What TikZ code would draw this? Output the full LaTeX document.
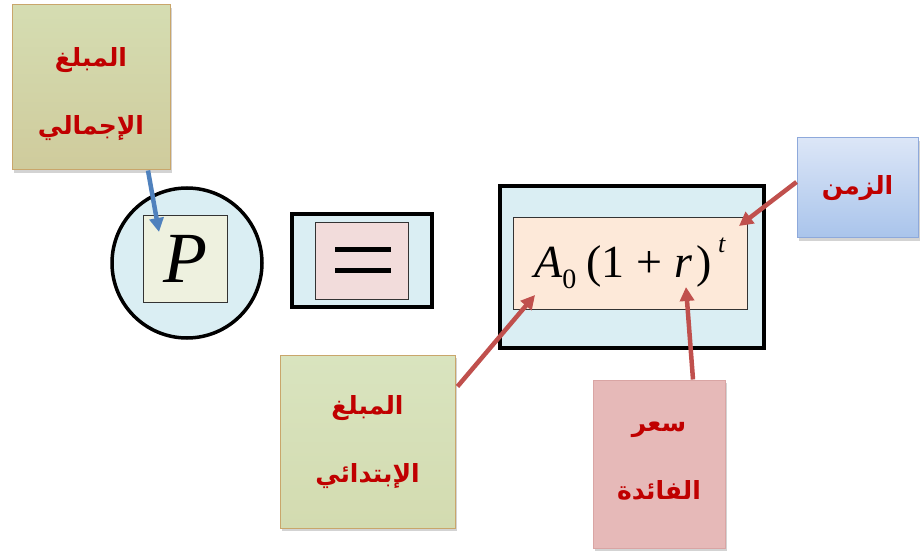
\documentclass[tikz,border=0pt]{standalone}
\usepackage{fontspec}
\usetikzlibrary{arrows.meta,shadows}
\TeXXeTstate=1
\newfontfamily\arabicfont[Script=Arabic]{DejaVu Sans}
\newfontfamily\timesf{Liberation Serif}
\definecolor{lblue}{HTML}{DAEEF3}
\definecolor{peach}{HTML}{FDE9D9}
\definecolor{pinkin}{HTML}{F2DCDB}
\definecolor{cream}{HTML}{EEF1DF}
\definecolor{txtred}{HTML}{C00000}
\definecolor{arrred}{HTML}{C0504D}
\definecolor{arrblue}{HTML}{4F81BD}
\definecolor{tanline}{HTML}{C9A66B}
\definecolor{gTtop}{HTML}{D5DDB2}
\definecolor{gTbot}{HTML}{CFCB9C}
\definecolor{gBtop}{HTML}{D9E4BF}
\definecolor{gBbot}{HTML}{D3DBB0}
\definecolor{pinkfill}{HTML}{E6B9B8}
\definecolor{pinkline}{HTML}{D9A5A4}
\definecolor{bline}{HTML}{8EA9DB}
\definecolor{btop}{HTML}{DCE6F7}
\definecolor{bbot}{HTML}{A9C4EB}
\tikzset{
  x=1pt,y=-1pt,
  outerbox/.style={draw=black,line width=4pt,fill=lblue},
  innerbox/.style={draw=black!80,line width=0.9pt},
  labelbox/.style={line width=1pt,drop shadow={shadow xshift=2pt,shadow yshift=-3pt,opacity=0.35}},
  labeltext/.style={font=\arabicfont\bfseries\fontsize{25}{68}\selectfont,text=txtred,align=center},
  callarrow/.style={line width=4.5pt,-{Triangle[length=14pt,width=14pt]}},
}
\begin{document}
\begin{tikzpicture}
\useasboundingbox (0,0) rectangle (922,559);
% P circle
\node[circle,draw=black,line width=3.5pt,fill=lblue,minimum size=150pt,inner sep=0pt] (circ) at (187,263) {};
\node[innerbox,fill=cream,minimum width=84pt,minimum height=87pt,inner sep=0pt] (pbox) at (185,258.5)
  {\timesf\itshape\fontsize{72}{72}\selectfont P};
% equals
\node[outerbox,minimum width=140pt,minimum height=92pt,inner sep=0pt] (eqout) at (361.5,260.5) {};
\node[innerbox,fill=pinkin,minimum width=93pt,minimum height=77pt,inner sep=0pt] (eqin) at (361.5,260.5) {};
\draw[line width=5pt] (335,250) -- (391,250) (335,270) -- (391,270);
% formula
\node[outerbox,minimum width=264pt,minimum height=161pt,inner sep=0pt] (fout) at (631.5,267) {};
\node[innerbox,fill=peach,minimum width=234pt,minimum height=92pt,inner sep=0pt] (fin) at (630,263)
  {\timesf\fontsize{46}{46}\selectfont\textit{A}\raisebox{-11pt}{\fontsize{28}{28}\selectfont 0}\kern10pt(1\kern12pt+\kern12pt\textit{r}\kern4pt)\kern6pt\raisebox{25pt}{\fontsize{26}{26}\selectfont\textit{t}}};
% label boxes
\node[labelbox,draw=tanline,top color=gTtop,bottom color=gTbot,minimum width=158pt,minimum height=165pt] (total) at (91,87.5) {};
\node[labeltext] (totaltxt) at (91,94) {\beginR المبلغ\endR\\ \beginR الإجمالي\endR};
\node[labelbox,draw=tanline,top color=gBtop,bottom color=gBbot,minimum width=175pt,minimum height=173pt] (init) at (367.5,441.5) {};
\node[labeltext] (inittxt) at (367.5,442) {\beginR المبلغ\endR\\ \beginR الإبتدائي\endR};
\node[labelbox,draw=pinkline,fill=pinkfill,minimum width=132pt,minimum height=168pt] (rate) at (659,464) {};
\node[labeltext] (ratetxt) at (659,461) {\beginR سعر\endR\\ \beginR الفائدة\endR};
\node[labelbox,draw=bline,top color=btop,bottom color=bbot,minimum width=121pt,minimum height=100pt] (time) at (857.5,188) {};
\node[labeltext] (timetxt) at (857.5,188) {\beginR الزمن\endR};
% arrows
\coordinate (tipP) at (159,232);
\coordinate (tipA) at (535,295);
\coordinate (tipr) at (686,287);
\coordinate (tipt) at (739,226);
\draw[callarrow,arrblue] (total.south) ++(57,0) coordinate (sP) -- (tipP);
\draw[callarrow,arrred] (init.north east) ++(2,32) coordinate (sA) -- (tipA);
\draw[callarrow,arrred] (rate.north) ++(34,0) coordinate (sr) -- (tipr);
\draw[callarrow,arrred] (time.west) ++(0,-6) coordinate (st) -- (tipt);
\end{tikzpicture}
\end{document}
